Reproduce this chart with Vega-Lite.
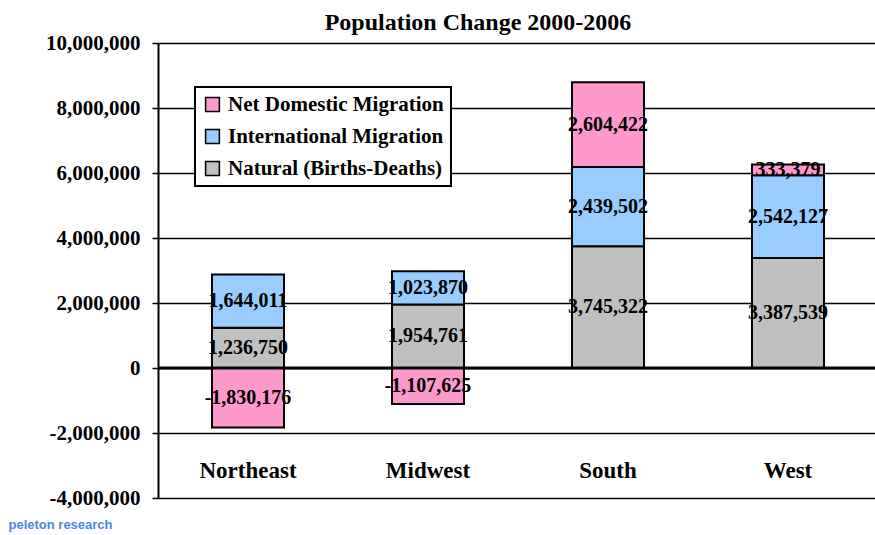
{
  "$schema": "https://vega.github.io/schema/vega-lite/v6.json",
  "autosize": "none",
  "width": 720,
  "height": 455,
  "padding": {"left": 158, "top": 43, "right": 0, "bottom": 37},
  "background": "white",
  "title": {
    "text": "Population Change 2000-2006",
    "font": "Liberation Serif",
    "fontSize": 24,
    "fontWeight": "bold",
    "color": "black",
    "anchor": "middle",
    "frame": "group",
    "dx": -40,
    "offset": -3
  },
  "config": {
    "view": {"stroke": null},
    "font": "Liberation Serif"
  },
  "datasets": {
    "pop": [
      {"region": "Northeast", "component": "Natural (Births-Deaths)", "ord": 1, "value": 1236750},
      {"region": "Northeast", "component": "International Migration", "ord": 2, "value": 1644011},
      {"region": "Northeast", "component": "Net Domestic Migration", "ord": 3, "value": -1830176},
      {"region": "Midwest", "component": "Natural (Births-Deaths)", "ord": 1, "value": 1954761},
      {"region": "Midwest", "component": "International Migration", "ord": 2, "value": 1023870},
      {"region": "Midwest", "component": "Net Domestic Migration", "ord": 3, "value": -1107625},
      {"region": "South", "component": "Natural (Births-Deaths)", "ord": 1, "value": 3745322},
      {"region": "South", "component": "International Migration", "ord": 2, "value": 2439502},
      {"region": "South", "component": "Net Domestic Migration", "ord": 3, "value": 2604422},
      {"region": "West", "component": "Natural (Births-Deaths)", "ord": 1, "value": 3387539},
      {"region": "West", "component": "International Migration", "ord": 2, "value": 2542127},
      {"region": "West", "component": "Net Domestic Migration", "ord": 3, "value": 333379}
    ],
    "zero": [{"v": 0}]
  },
  "layer": [
    {
      "data": {"name": "pop"},
      "transform": [
        {"stack": "value", "groupby": ["region"], "sort": [{"field": "ord", "order": "ascending"}], "as": ["v0", "v1"], "offset": "zero"},
        {"calculate": "(datum.v0 + datum.v1) / 2", "as": "mid"},
        {"calculate": "replace(format(datum.value, ','), '\u2212', '-')", "as": "lbl"}
      ],
      "encoding": {
        "x": {
          "field": "region",
          "type": "nominal",
          "sort": ["Northeast", "Midwest", "South", "West"],
          "scale": {"paddingInner": 0.6, "paddingOuter": 0.3},
          "axis": {
            "title": null,
            "domain": false,
            "ticks": false,
            "tickSize": 0,
            "labelAngle": 0,
            "labelFont": "Liberation Serif",
            "labelFontSize": 23,
            "labelFontWeight": "bold",
            "labelColor": "black",
            "labelBaseline": "alphabetic",
            "labelPadding": -21
          }
        }
      },
      "layer": [
        {
          "mark": {"type": "bar", "stroke": "black", "strokeWidth": 2},
          "encoding": {
            "y": {
              "field": "v0",
              "type": "quantitative",
              "scale": {"domain": [-4000000, 10000000], "nice": false},
              "axis": {
                "title": "peleton research",
                "titleFont": "Liberation Sans",
                "titleFontSize": 13,
                "titleFontWeight": "bold",
                "titleColor": "#4f86e8",
                "titleAngle": 0,
                "titleAlign": "left",
                "titleBaseline": "alphabetic",
                "titleX": -150,
                "titleY": 485,
                "values": [-4000000, -2000000, 0, 2000000, 4000000, 6000000, 8000000, 10000000],
                "labelExpr": "replace(format(datum.value, ','), '\u2212', '-')",
                "labelFont": "Liberation Serif",
                "labelFontSize": 21,
                "labelFontWeight": "bold",
                "labelColor": "black",
                "labelPadding": 12,
                "domainColor": "black",
                "domainWidth": 2,
                "tickColor": "black",
                "tickSize": 6,
                "tickWidth": 1.5,
                "grid": true,
                "gridColor": "black",
                "gridWidth": 1.5,
                "gridOpacity": 1
              }
            },
            "y2": {"field": "v1"},
            "color": {
              "field": "component",
              "type": "nominal",
              "scale": {
                "domain": ["Net Domestic Migration", "International Migration", "Natural (Births-Deaths)"],
                "range": ["#ff99cc", "#99ccff", "#c0c0c0"]
              },
              "legend": {
                "title": null,
                "orient": "none",
                "legendX": 37,
                "legendY": 44,
                "padding": 7,
                "strokeColor": "black",
                "fillColor": "white",
                "symbolType": "square",
                "symbolSize": 190,
                "symbolStrokeColor": "black",
                "symbolStrokeWidth": 1.5,
                "labelFont": "Liberation Serif",
                "labelFontSize": 21,
                "labelFontWeight": "bold",
                "labelColor": "black",
                "labelLimit": 400,
                "labelOffset": 5,
                "rowPadding": 10,
                "encode": {"legend": {"update": {"strokeWidth": {"value": 2}}}}
              }
            }
          }
        },
        {
          "mark": {"type": "text", "font": "Liberation Serif", "fontSize": 20, "fontWeight": "bold", "color": "black", "baseline": "middle"},
          "encoding": {
            "y": {"field": "mid", "type": "quantitative"},
            "text": {"field": "lbl", "type": "nominal"}
          }
        }
      ]
    },
    {
      "data": {"name": "zero"},
      "mark": {"type": "rule", "color": "black", "strokeWidth": 3},
      "encoding": {"y": {"field": "v", "type": "quantitative"}}
    }
  ]
}
